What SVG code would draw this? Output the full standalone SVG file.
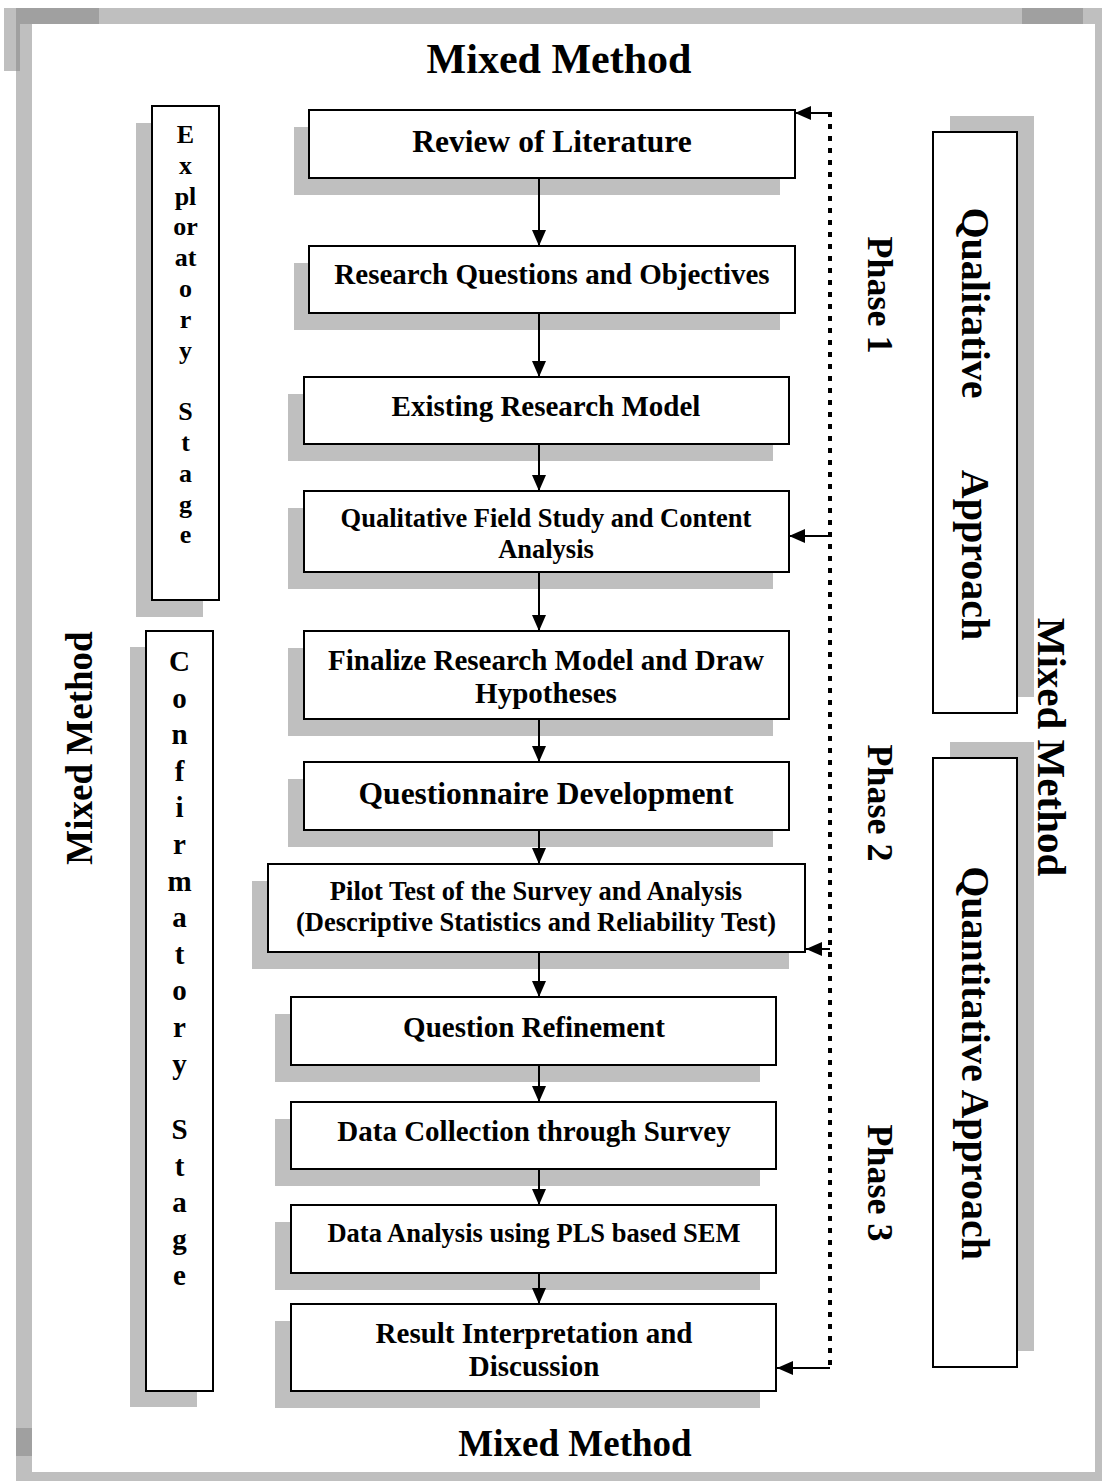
<svg xmlns="http://www.w3.org/2000/svg" width="1102" height="1481" viewBox="0 0 1102 1481">
<style>
  .frame { fill: #bfbfbf; }
  .frameDark { fill: #a0a0a0; }
  .shadow { fill: #bfbfbf; }
  .box { fill: #ffffff; stroke: #000000; stroke-width: 2; }
  text { font-family: "Liberation Serif", "Times New Roman", serif; font-weight: bold; fill: #000000; }
  .c { text-anchor: middle; }
  .conn { stroke: #000000; stroke-width: 2; fill: none; }
  .dotted { stroke: #000000; stroke-width: 4; stroke-dasharray: 5 7; fill: none; }
</style>
<defs>
  <marker id="arrow" viewBox="0 0 16 14" refX="16" refY="7" markerWidth="16" markerHeight="14" markerUnits="userSpaceOnUse" orient="auto">
    <path d="M0,0 L16,7 L0,14 z" fill="#000000"/>
  </marker>
</defs>
<rect width="1102" height="1481" fill="#ffffff"/>
<g id="frame">
  <rect class="frame" x="4" y="8" width="16" height="63"/>
  <rect class="frame" x="16" y="8" width="16" height="1473"/>
  <rect class="frame" x="16" y="8" width="1086" height="16"/>
  <rect class="frame" x="1095" y="8" width="7" height="1473"/>
  <rect class="frame" x="16" y="1472" width="1086" height="9"/>
  <rect class="frameDark" x="16" y="8" width="83" height="16"/>
  <rect class="frameDark" x="16" y="24" width="4" height="47"/>
  <rect class="frameDark" x="1022" y="8" width="61" height="16"/>
  <rect class="frameDark" x="16" y="1428" width="16" height="28"/>
</g>
<g id="title-top"><text class="c" x="559" y="73" font-size="42">Mixed Method</text></g>
<g id="title-bottom"><text class="c" x="575" y="1456" font-size="37">Mixed Method</text></g>
<g id="title-left"><text class="c" transform="translate(92,748) rotate(-90)" font-size="37">Mixed Method</text></g>
<g id="title-right"><text class="c" transform="translate(1038,747) rotate(90)" font-size="41">Mixed Method</text></g>

<g id="exploratory-stage">
  <rect class="shadow" x="136" y="123" width="67" height="494"/>
  <rect class="box" x="152" y="106" width="67" height="494"/>
  <g font-size="26" class="c">
    <text class="c" x="185.5" y="143">E</text>
    <text class="c" x="185.5" y="173.8">x</text>
    <text class="c" x="185.5" y="204.6">pl</text>
    <text class="c" x="185.5" y="235.4">or</text>
    <text class="c" x="185.5" y="266.2">at</text>
    <text class="c" x="185.5" y="297">o</text>
    <text class="c" x="185.5" y="327.8">r</text>
    <text class="c" x="185.5" y="358.6">y</text>
    <text class="c" x="185.5" y="420.2">S</text>
    <text class="c" x="185.5" y="451">t</text>
    <text class="c" x="185.5" y="481.8">a</text>
    <text class="c" x="185.5" y="512.6">g</text>
    <text class="c" x="185.5" y="543.4">e</text>
  </g>
</g>

<g id="confirmatory-stage">
  <rect class="shadow" x="130" y="647" width="67" height="760"/>
  <rect class="box" x="146" y="631" width="67" height="760"/>
  <g font-size="29">
    <text class="c" x="179.5" y="671">C</text>
    <text class="c" x="179.5" y="707.6">o</text>
    <text class="c" x="179.5" y="744.2">n</text>
    <text class="c" x="179.5" y="780.8">f</text>
    <text class="c" x="179.5" y="817.4">i</text>
    <text class="c" x="179.5" y="854">r</text>
    <text class="c" x="179.5" y="890.6">m</text>
    <text class="c" x="179.5" y="927.2">a</text>
    <text class="c" x="179.5" y="963.8">t</text>
    <text class="c" x="179.5" y="1000.4">o</text>
    <text class="c" x="179.5" y="1037">r</text>
    <text class="c" x="179.5" y="1073.6">y</text>
    <text class="c" x="179.5" y="1139">S</text>
    <text class="c" x="179.5" y="1175.6">t</text>
    <text class="c" x="179.5" y="1212.2">a</text>
    <text class="c" x="179.5" y="1248.8">g</text>
    <text class="c" x="179.5" y="1285.4">e</text>
  </g>
</g>

<g id="qualitative-approach">
  <rect class="shadow" x="950" y="116" width="84" height="581"/>
  <rect class="box" x="933" y="132" width="84" height="581"/>
  <text class="c" transform="translate(962,303) rotate(90)" font-size="40">Qualitative</text>
  <text class="c" transform="translate(962,555) rotate(90)" font-size="40">Approach</text>
</g>

<g id="quantitative-approach">
  <rect class="shadow" x="950" y="742" width="84" height="609"/>
  <rect class="box" x="933" y="758" width="84" height="609"/>
  <text class="c" transform="translate(962,1063) rotate(90)" font-size="40">Quantitative Approach</text>
</g>

<g id="phase-1"><text class="c" transform="translate(868,295) rotate(90)" font-size="36">Phase 1</text></g>
<g id="phase-2"><text class="c" transform="translate(868,803) rotate(90)" font-size="36">Phase 2</text></g>
<g id="phase-3"><text class="c" transform="translate(868,1183) rotate(90)" font-size="36">Phase 3</text></g>

<g id="review-of-literature">
  <rect class="shadow" x="294" y="127" width="486" height="68"/>
  <rect class="box" x="309" y="110" width="486" height="68"/>
  <text class="c" x="552" y="152" font-size="31.5">Review of Literature</text>
</g>
<g id="research-questions">
  <rect class="shadow" x="294" y="263" width="486" height="67"/>
  <rect class="box" x="309" y="246" width="486" height="67"/>
  <text class="c" x="552" y="284" font-size="29">Research Questions and Objectives</text>
</g>
<g id="existing-model">
  <rect class="shadow" x="288" y="394" width="485" height="67"/>
  <rect class="box" x="304" y="377" width="485" height="67"/>
  <text class="c" x="546" y="416" font-size="29">Existing Research Model</text>
</g>
<g id="qualitative-field-study">
  <rect class="shadow" x="288" y="508" width="485" height="81"/>
  <rect class="box" x="304" y="491" width="485" height="81"/>
  <text class="c" x="546" y="527" font-size="26.5">Qualitative Field Study and Content</text>
  <text class="c" x="546" y="558" font-size="26.5">Analysis</text>
</g>
<g id="finalize-model">
  <rect class="shadow" x="288" y="648" width="485" height="88"/>
  <rect class="box" x="304" y="631" width="485" height="88"/>
  <text class="c" x="546" y="670" font-size="29">Finalize Research Model and Draw</text>
  <text class="c" x="546" y="703" font-size="29">Hypotheses</text>
</g>
<g id="questionnaire-development">
  <rect class="shadow" x="288" y="779" width="485" height="68"/>
  <rect class="box" x="304" y="762" width="485" height="68"/>
  <text class="c" x="546" y="804" font-size="31.5">Questionnaire Development</text>
</g>
<g id="pilot-test">
  <rect class="shadow" x="252" y="881" width="537" height="88"/>
  <rect class="box" x="268" y="864" width="537" height="88"/>
  <text class="c" x="536" y="900" font-size="26.5">Pilot Test of the Survey and Analysis</text>
  <text class="c" x="536" y="931" font-size="26.5">(Descriptive Statistics and Reliability Test)</text>
</g>
<g id="question-refinement">
  <rect class="shadow" x="275" y="1014" width="485" height="68"/>
  <rect class="box" x="291" y="997" width="485" height="68"/>
  <text class="c" x="534" y="1037" font-size="29">Question Refinement</text>
</g>
<g id="data-collection">
  <rect class="shadow" x="275" y="1119" width="485" height="67"/>
  <rect class="box" x="291" y="1102" width="485" height="67"/>
  <text class="c" x="534" y="1141" font-size="29">Data Collection through Survey</text>
</g>
<g id="data-analysis">
  <rect class="shadow" x="275" y="1222" width="485" height="68"/>
  <rect class="box" x="291" y="1205" width="485" height="68"/>
  <text class="c" x="534" y="1242" font-size="26.5">Data Analysis using PLS based SEM</text>
</g>
<g id="result-interpretation">
  <rect class="shadow" x="275" y="1321" width="485" height="87"/>
  <rect class="box" x="291" y="1304" width="485" height="87"/>
  <text class="c" x="534" y="1343" font-size="29">Result Interpretation and</text>
  <text class="c" x="534" y="1376" font-size="29">Discussion</text>
</g>

<g id="connectors">
  <line class="conn" x1="539" y1="178" x2="539" y2="246" marker-end="url(#arrow)"/>
  <line class="conn" x1="539" y1="313" x2="539" y2="377" marker-end="url(#arrow)"/>
  <line class="conn" x1="539" y1="444" x2="539" y2="491" marker-end="url(#arrow)"/>
  <line class="conn" x1="539" y1="572" x2="539" y2="631" marker-end="url(#arrow)"/>
  <line class="conn" x1="539" y1="719" x2="539" y2="762" marker-end="url(#arrow)"/>
  <line class="conn" x1="539" y1="830" x2="539" y2="864" marker-end="url(#arrow)"/>
  <line class="conn" x1="539" y1="952" x2="539" y2="997" marker-end="url(#arrow)"/>
  <line class="conn" x1="539" y1="1065" x2="539" y2="1102" marker-end="url(#arrow)"/>
  <line class="conn" x1="539" y1="1169" x2="539" y2="1205" marker-end="url(#arrow)"/>
  <line class="conn" x1="539" y1="1273" x2="539" y2="1304" marker-end="url(#arrow)"/>
  <line class="dotted" x1="830" y1="112" x2="830" y2="1368"/>
  <line class="conn" x1="830" y1="113" x2="795" y2="113" marker-end="url(#arrow)"/>
  <line class="conn" x1="830" y1="536" x2="789" y2="536" marker-end="url(#arrow)"/>
  <line class="conn" x1="830" y1="949" x2="806" y2="949" marker-end="url(#arrow)"/>
  <line class="conn" x1="830" y1="1368" x2="777" y2="1368" marker-end="url(#arrow)"/>
</g>
</svg>
